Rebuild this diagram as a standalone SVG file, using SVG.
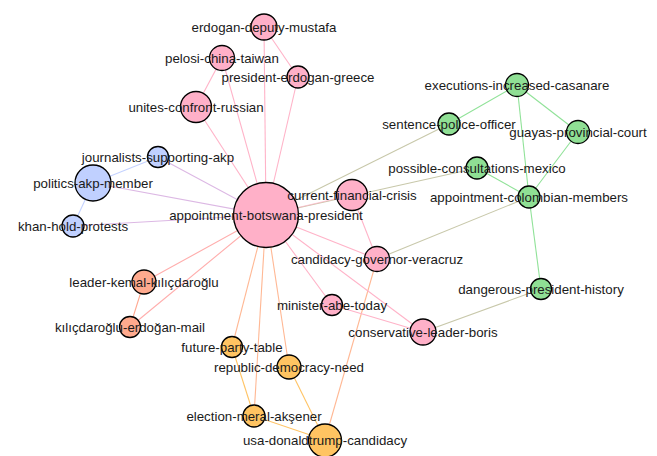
<svg xmlns="http://www.w3.org/2000/svg" width="657" height="456" viewBox="0 0 657 456">
<style>
.e{stroke-width:1.1;fill:none}
.pp{stroke:#ffb3c8}
.pb{stroke:#dcb8e4}
.bb{stroke:#c4d2ff}
.gg{stroke:#90e298}
.pg{stroke:#c8c8aa}
.ps{stroke:#ffadac}
.ss{stroke:#ffa890}
.po{stroke:#ffb894}
.oo{stroke:#ffc466}
circle{stroke:#000;stroke-width:1.3}
.p circle{fill:#ffb0c8}
.b circle{fill:#c0d0ff}
.g circle{fill:#8fdf94}
.s circle{fill:#ffaa8e}
.o circle{fill:#ffc462}
text{font-family:"Liberation Sans",Arial,sans-serif;font-size:13.3px;fill:#1a1a1a;text-anchor:middle}
</style>
<rect width="657" height="456" fill="#fff"/>
<g id="edges">
<line class="e pp" x1="264" y1="27" x2="266" y2="215"/>
<line class="e pp" x1="264" y1="27" x2="298" y2="77"/>
<line class="e pp" x1="298" y1="77" x2="266" y2="215"/>
<line class="e pp" x1="222" y1="58" x2="196" y2="107"/>
<line class="e pp" x1="222" y1="58" x2="266" y2="215"/>
<line class="e pp" x1="196" y1="107" x2="266" y2="215"/>
<line class="e pb" x1="158" y1="157" x2="266" y2="215"/>
<line class="e pb" x1="93" y1="183" x2="266" y2="215"/>
<line class="e pb" x1="73" y1="226" x2="266" y2="215"/>
<line class="e bb" x1="93" y1="183" x2="158" y2="157"/>
<line class="e bb" x1="93" y1="183" x2="73" y2="226"/>
<line class="e pg" x1="449" y1="124" x2="266" y2="215"/>
<line class="e pg" x1="477" y1="168" x2="266" y2="215"/>
<line class="e pp" x1="266" y1="215" x2="352" y2="195" stroke-opacity="0.7"/>
<line class="e pp" x1="352" y1="195" x2="377" y2="259"/>
<line class="e pp" x1="266" y1="215" x2="377" y2="259"/>
<line class="e pg" x1="377" y1="259" x2="529" y2="197"/>
<line class="e po" x1="377" y1="259" x2="325" y2="440"/>
<line class="e pp" x1="266" y1="215" x2="332" y2="305"/>
<line class="e pp" x1="266" y1="215" x2="423" y2="332"/>
<line class="e pp" x1="332" y1="305" x2="423" y2="332"/>
<line class="e pg" x1="423" y1="332" x2="541" y2="289"/>
<line class="e gg" x1="529" y1="197" x2="541" y2="289"/>
<line class="e gg" x1="517" y1="85" x2="449" y2="124"/>
<line class="e gg" x1="517" y1="85" x2="578" y2="132"/>
<line class="e gg" x1="517" y1="85" x2="529" y2="197"/>
<line class="e gg" x1="578" y1="132" x2="529" y2="197"/>
<line class="e gg" x1="477" y1="168" x2="529" y2="197"/>
<line class="e ps" x1="144" y1="282" x2="266" y2="215"/>
<line class="e ps" x1="130" y1="327" x2="266" y2="215"/>
<line class="e ss" x1="144" y1="282" x2="130" y2="327"/>
<line class="e po" x1="232" y1="347" x2="266" y2="215"/>
<line class="e po" x1="254" y1="416" x2="266" y2="215"/>
<line class="e po" x1="289" y1="367" x2="266" y2="215"/>
<line class="e oo" x1="232" y1="347" x2="254" y2="416"/>
<line class="e oo" x1="254" y1="416" x2="325" y2="440"/>
<line class="e oo" x1="289" y1="367" x2="325" y2="440"/>
</g>
<g id="nodes">
<g id="n-botswana" class="p"><circle cx="266" cy="215" r="32.5"/><text x="266" y="219.7">appointment-botswana-president</text></g>
<g id="n-mustafa" class="p"><circle cx="264" cy="27" r="13"/><text x="264" y="31.7">erdogan-deputy-mustafa</text></g>
<g id="n-pelosi" class="p"><circle cx="222" cy="58" r="12.5"/><text x="222" y="62.7">pelosi-china-taiwan</text></g>
<g id="n-greece" class="p"><circle cx="298" cy="77" r="11"/><text x="298" y="81.7">president-erdogan-greece</text></g>
<g id="n-unites" class="p"><circle cx="196" cy="107" r="15.5"/><text x="196" y="111.7">unites-confront-russian</text></g>
<g id="n-journalists" class="b"><circle cx="158" cy="157" r="10.5"/><text x="158" y="161.7">journalists-supporting-akp</text></g>
<g id="n-politics" class="b"><circle cx="93" cy="183" r="18"/><text x="93" y="187.7">politics-akp-member</text></g>
<g id="n-khan" class="b"><circle cx="73" cy="226" r="11"/><text x="73" y="230.7">khan-hold-protests</text></g>
<g id="n-current" class="p"><circle cx="352" cy="195" r="15.5"/><text x="352" y="199.7">current-financial-crisis</text></g>
<g id="n-candidacy" class="p"><circle cx="377" cy="259" r="12.5"/><text x="377" y="263.7">candidacy-governor-veracruz</text></g>
<g id="n-executions" class="g"><circle cx="517" cy="85" r="11.5"/><text x="517" y="89.7">executions-increased-casanare</text></g>
<g id="n-sentence" class="g"><circle cx="449" cy="124" r="11"/><text x="449" y="128.7">sentence-police-officer</text></g>
<g id="n-guayas" class="g"><circle cx="578" cy="132" r="11.5"/><text x="578" y="136.7">guayas-provincial-court</text></g>
<g id="n-possible" class="g"><circle cx="477" cy="168" r="11"/><text x="477" y="172.7">possible-consultations-mexico</text></g>
<g id="n-colombian" class="g"><circle cx="529" cy="197" r="11"/><text x="529" y="201.7">appointment-colombian-members</text></g>
<g id="n-dangerous" class="g"><circle cx="541" cy="289" r="10.5"/><text x="541" y="293.7">dangerous-president-history</text></g>
<g id="n-minister" class="p"><circle cx="332" cy="305" r="10.5"/><text x="332" y="309.7">minister-abe-today</text></g>
<g id="n-boris" class="p"><circle cx="423" cy="332" r="13"/><text x="423" y="336.7">conservative-leader-boris</text></g>
<g id="n-kemal" class="s"><circle cx="144" cy="282" r="12"/><text x="144" y="286.7">leader-kemal-kılıçdaroğlu</text></g>
<g id="n-mail" class="s"><circle cx="130" cy="327" r="10.5"/><text x="130" y="331.7">kılıçdaroğlu-erdoğan-mail</text></g>
<g id="n-future" class="o"><circle cx="232" cy="347" r="10.5"/><text x="232" y="351.7">future-party-table</text></g>
<g id="n-republic" class="o"><circle cx="289" cy="367" r="12"/><text x="289" y="371.7">republic-democracy-need</text></g>
<g id="n-election" class="o"><circle cx="254" cy="416" r="11"/><text x="254" y="420.7">election-meral-akşener</text></g>
<g id="n-usa" class="o"><circle cx="325" cy="440.5" r="16.5"/><text x="325" y="445.2">usa-donaldtrump-candidacy</text></g>
</g>
</svg>
